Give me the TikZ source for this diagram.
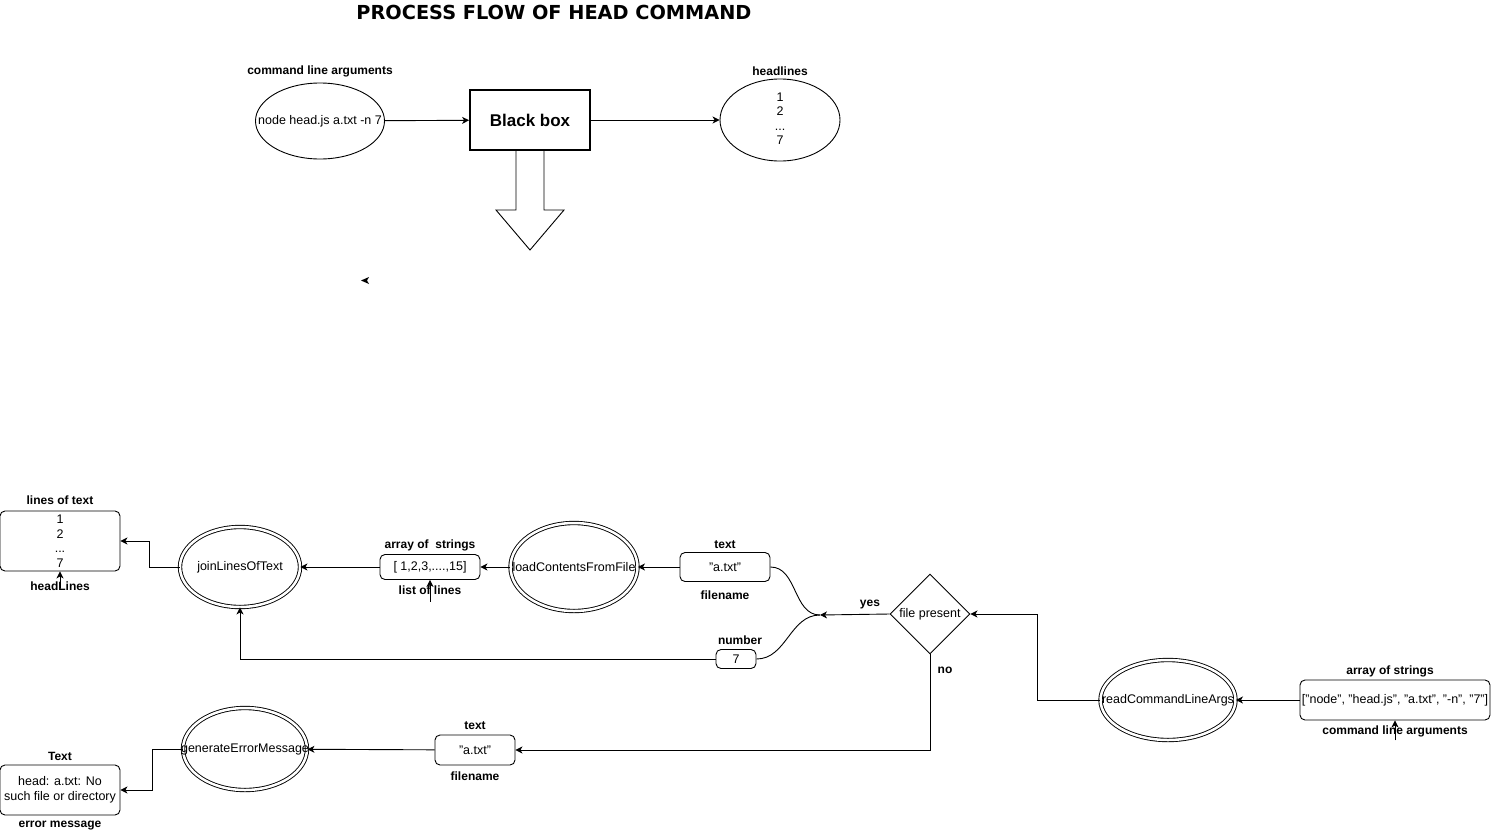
\documentclass[tikz,border=0pt]{standalone}
\usepackage{fontspec}
\setmainfont{Liberation Sans}
\newfontfamily\titlefont{DejaVu Sans}
\usetikzlibrary{arrows.meta,shapes.geometric}

\newcommand{\zerow}[1]{\makebox[0pt]{#1}}

\tikzset{
  arr/.style={-{Stealth[length=7pt,width=7pt,inset=2pt]}},
  lbl/.style={font=\fontsize{12}{14}\selectfont\bfseries},
  oval/.style={draw, ellipse, inner sep=0pt, align=center},
  fn/.style={draw, ellipse, double, double distance=2.5pt, inner sep=0pt, minimum width=120pt, minimum height=80pt},
  databox/.style={draw, rounded corners=5pt, align=center, inner sep=0pt}
}

\begin{document}
\begin{tikzpicture}[x=1pt, y=-1pt, line width=0.9pt, font=\fontsize{12.5}{14.5}\selectfont]
        \useasboundingbox (0,0) rectangle (1491,836);

        % black box view
        \node (T) at (554,12) {\titlefont\bfseries\fontsize{19.3}{21}\selectfont PROCESS FLOW OF HEAD COMMAND};
        \node (ARGS) [oval, minimum width=129pt, minimum height=76pt] at (320,121) {\zerow{node head.js a.txt -n 7}};
        \node [lbl] at (320,71) {command line arguments};
        \node (BB) [draw, line width=1.8pt, minimum width=120pt, minimum height=60pt, font=\fontsize{17}{20}\selectfont\bfseries] at (530,120) {Black box};
        \node (HL) [oval, minimum width=120pt, minimum height=77pt] at (780,120) {\zerow{\begin{tabular}{@{}c@{}}1\\2\\...\\7\end{tabular}}};
        \node [lbl] at (780,71) {headlines};
        \draw[arr] (ARGS) -- (BB);
        \draw[arr] (BB) -- (HL);
        \draw (516,150) -- (516,210) -- (496,210) -- (530,250) -- (564,210) -- (544,210) -- (544,150);
        \fill (361,280.5) -- (369,277) -- (367,280.5) -- (369,284) -- cycle;

        % functions
        \node (LOT) [databox, minimum width=120pt, minimum height=60pt] at (60,541) {1\\2\\...\\7};
        \node [lbl] at (60,500) {lines of text};
        \node [lbl] at (60,586) {headLines};
        \node (JOIN) [fn] at (240,567) {\zerow{joinLinesOfText}};
        \node (LIST) [databox, minimum width=100pt, minimum height=25pt] at (430,567) {[ 1,2,3,....,15]};
        \node [lbl] at (430,545) {array of\ \ strings};
        \node [lbl] at (430,590) {list of lines};
        \node (LOAD) [fn, minimum width=127pt, minimum height=88pt] at (574,567) {\zerow{loadContentsFromFile}};
        \node (FILE) [databox, minimum width=90pt, minimum height=29pt] at (725,567) {"a.txt"};
        \node [lbl] at (725,545) {text};
        \node [lbl] at (725,595) {filename};
        \node (NUM) [databox, minimum width=40pt, minimum height=19pt] at (736,659) {7};
        \node [lbl] at (740,640) {number};
        \coordinate (M) at (820,615);
        \node (FP) [draw, diamond, aspect=1, minimum width=80pt, minimum height=80pt, inner sep=0pt] at (930,614) {\zerow{file present}};
        \node [lbl] at (870,605) {yes};
        \node [lbl] at (945,670) {no};
        \node (RCA) [fn, minimum width=135pt] at (1168,700) {\zerow{readCommandLineArgs}};
        \node (CLA) [databox, minimum width=190pt, minimum height=40pt] at (1395,700) {["node", "head.js", "a.txt", "-n", "7"]};
        \node [lbl] at (1390,671) {array of strings};
        \node [lbl] at (1395,731) {command line arguments};
        \node (FILE2) [databox, minimum width=80pt, minimum height=30pt] at (475,750) {"a.txt"};
        \node [lbl] at (475,726) {text};
        \node [lbl] at (475,776) {filename};
        \node (GEM) [fn, minimum width=124pt, minimum height=82pt] at (245,749) {\zerow{generateErrorMessage}};
        \node (ERR) [databox, minimum width=120pt, minimum height=50pt] at (60,790) {head: a.txt: No\\such file or directory};
        \node [lbl] at (60,756) {Text};
        \node [lbl] at (60,826) {error message};

        \draw[arr] ([yshift=-17pt]LOT.south) -- (LOT.south);
        \draw[arr] ([yshift=-22pt]LIST.south) -- (LIST.south);
        \draw[arr] ([yshift=-20pt]CLA.south) -- (CLA.south);
        \draw[arr] (JOIN.west) -- ++(-30,0) |- (LOT.east);
        \draw[arr] (LIST) -- (JOIN);
        \draw[arr] (LOAD) -- (LIST);
        \draw[arr] (FILE) -- (LOAD);
        \draw (FILE.east) to[out=0, in=180] (M);
        \draw (NUM.east) to[out=0, in=180] (M);
        \draw[arr] (FP.west) -- (M);
        \draw[arr] (NUM.west) -| (JOIN.south);
        \draw[arr] (RCA.west) -- ++(-63,0) |- (FP.east);
        \draw[arr] (CLA) -- (RCA);
        \draw[arr] (FP.south) |- (FILE2.east);
        \draw[arr] (FILE2) -- (GEM);
        \draw[arr] (GEM.west) -- ++(-30,0) |- (ERR.east);
\end{tikzpicture}
\end{document}
